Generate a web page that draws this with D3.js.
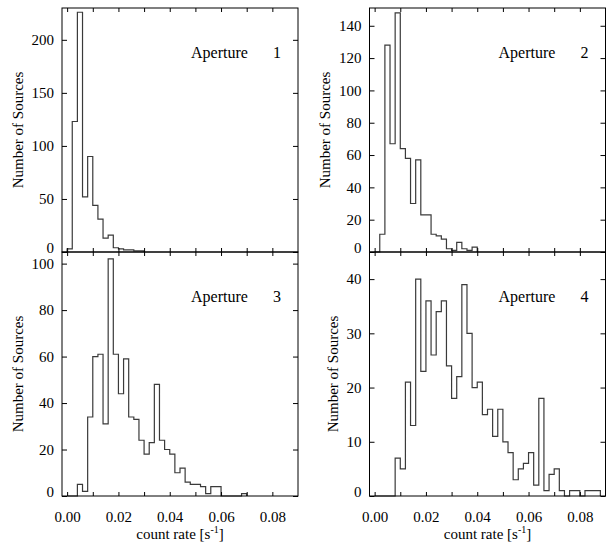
<!DOCTYPE html>
<html>
<head>
<meta charset="utf-8">
<script src="https://cdn.jsdelivr.net/npm/d3@7"></script>
<style>
  body { margin: 0; background: #fff; }
</style>
</head>
<body>
<svg id="chart" width="606" height="544"></svg>
<script>
// histogram counts per aperture, bins of 0.002 s^-1 starting at 0
const apertures = ['1', '2', '3', '4']
const binWidth = 0.002
const countsAp1 = [3, 123, 226, 52, 90, 44, 31, 13, 16, 4, 3, 2, 2, 1, 1]
const countsAp2 = [0, 11, 128, 67, 148, 64, 58, 30, 57, 23, 23, 11, 10, 8, 2, 1, 6, 2, 1, 3]
const countsAp3 = [0, 0, 5, 2, 34, 60, 61, 31, 102, 61, 44, 59, 34, 33, 24, 18, 23, 48, 24, 20,
  18, 10, 12, 6, 5, 5, 4, 1, 4, 4, 0, 0, 0, 0, 1]
const countsAp4 = [0, 0, 0, 0, 7, 5, 21, 13, 40, 23, 36, 26, 34, 36, 24, 18, 22, 39, 30, 20,
  21, 15, 16, 11, 16, 10, 8, 3, 5, 6, 8, 2, 18, 1, 4, 5, 1, 0, 1, 1, 0, 1, 1, 1]

const yMax = [230, 151, 105, 45]
const yTicksAp1 = [0, 50, 100, 150, 200]
const yTicksAp2 = [0, 20, 40, 60, 80, 100, 120, 140]
const yTicksAp3 = [0, 20, 40, 60, 80, 100]
const yTicksAp4 = [0, 10, 20, 30, 40]

const xDomain = [-0.002, 0.09]
const xTicks = [0, 0.01, 0.02, 0.03, 0.04, 0.05, 0.06, 0.07, 0.08]
const xLabelTicks = [0, 0.02, 0.04, 0.06, 0.08]

const serif = 'Liberation Serif'
const svg = d3.select('#chart')
const cols = [62, 369.5]
const rows = [8, 252]
const pw = 236
const ph = 244

const panels = [
  {counts: countsAp1, yTicks: yTicksAp1, col: 0, row: 0},
  {counts: countsAp2, yTicks: yTicksAp2, col: 1, row: 0},
  {counts: countsAp3, yTicks: yTicksAp3, col: 0, row: 1},
  {counts: countsAp4, yTicks: yTicksAp4, col: 1, row: 1}
]

panels.forEach((p, i) => {
  const left = cols[p.col]
  const top = rows[p.row]
  const x = d3.scaleLinear().domain(xDomain).range([left, left + pw])
  const y = d3.scaleLinear().domain([0, yMax[i]]).range([top + ph, top])
  const g = svg.append('g')

  const points = [[0, 0]]
    .concat(p.counts.map((c, k) => [k * binWidth, c]))
    .concat([[p.counts.length * binWidth, 0]])
  const line = d3.line().x(d => x(d[0])).y(d => y(d[1])).curve(d3.curveStepAfter)

  g.append('path')
    .attr('d', line(points))
    .attr('fill', 'none')
    .attr('stroke', '#3a3a3a')
    .attr('stroke-width', 1.2)

  const labelled = d => xLabelTicks.some(v => Math.abs(v - d) < 1e-9)
  g.append('g')
    .attr('transform', `translate(0, ${top + ph})`)
    .call(d3.axisBottom(x).tickValues(xTicks).tickSize(-4).tickPadding(15)
      .tickFormat(d => (p.row === 1 && labelled(d)) ? d3.format('.2f')(d) : ''))
  g.append('g')
    .attr('transform', `translate(0, ${top})`)
    .call(d3.axisTop(x).tickValues(xTicks).tickSize(-4).tickFormat(''))

  const leftAxis = g.append('g')
    .attr('transform', `translate(${left}, 0)`)
    .call(d3.axisLeft(y).tickValues(p.yTicks).tickSize(-5).tickPadding(8))
  g.append('g')
    .attr('transform', `translate(${left + pw}, 0)`)
    .call(d3.axisRight(y).tickValues(p.yTicks).tickSize(-5).tickFormat(''))

  g.selectAll('.domain').remove()
  g.selectAll('g').attr('font-family', serif).attr('font-size', 15)
  g.selectAll('.tick line').attr('stroke', '#000')
  g.selectAll('.tick text').attr('fill', '#000').attr('font-family', serif)
  // zero label sits on the axis so it does not clash with the panel below
  leftAxis.selectAll('.tick text').filter(d => d === 0).attr('dy', '0em')

  g.append('rect')
    .attr('x', left)
    .attr('y', top)
    .attr('width', pw)
    .attr('height', ph)
    .attr('fill', 'none')
    .attr('stroke', '#000')
    .attr('stroke-width', 1)

  let labelLeft = left
  leftAxis.selectAll('.tick text').each(function() {
    const b = this.getBBox()
    labelLeft = Math.min(labelLeft, left - 8 - b.width)
  })

  svg.append('text')
    .attr('transform', `translate(${labelLeft - 9}, ${top + ph / 2}) rotate(-90)`)
    .attr('text-anchor', 'middle')
    .attr('font-family', serif)
    .attr('font-size', 15)
    .text('Number of Sources')

  svg.append('text')
    .attr('x', left + 129)
    .attr('y', top + 50)
    .attr('font-family', serif)
    .attr('font-size', 16)
    .text('Aperture')
  svg.append('text')
    .attr('x', left + 215)
    .attr('y', top + 50)
    .attr('text-anchor', 'middle')
    .attr('font-family', serif)
    .attr('font-size', 16)
    .text(apertures[i])

  if(p.row === 1) {
    const t = svg.append('text')
      .attr('x', left + pw / 2)
      .attr('y', 539)
      .attr('text-anchor', 'middle')
      .attr('font-family', serif)
      .attr('font-size', 15)
    t.append('tspan').text('count rate [s')
    t.append('tspan').attr('font-size', 10).attr('dy', -6).text('-1')
    t.append('tspan').attr('dy', 6).text(']')
  }
})
</script>
</body>
</html>
